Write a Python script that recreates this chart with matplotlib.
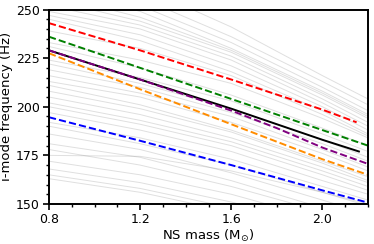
import matplotlib
matplotlib.use('Agg')
import matplotlib.pyplot as plt
import numpy as np
from matplotlib.ticker import MultipleLocator

mass = [0.8, 1.2, 1.6, 2.0, 2.2]

# highlighted EOS curves (Hz)
red_m = [0.8, 1.2, 1.6, 2.0, 2.15]
red_f = [243, 229, 214, 198.5, 192]
green_f = [236, 220, 204, 188, 180]
orange_f = [227.5, 209, 191, 173, 165]
blue_f = [194.6, 182.5, 170, 157, 150.7]
black_m = [0.8, 1.2, 1.6, 1.8, 2.0, 2.16]
black_f = [229, 214, 199, 191, 183, 177]
purple_m = [0.8, 1.2, 1.6, 1.8, 2.0, 2.2]
purple_f = [229, 214, 198, 189, 179, 170.6]

# background EOS curves (Hz at mass points above)
gray_f = [
    [275, 262, 241, 216, 204],
    [272, 256, 236, 213, 201],
    [266, 252, 233, 210, 198],
    [262, 249, 230, 208, 196],
    [258, 246, 229, 207, 195],
    [255, 244, 228, 206, 194],
    [252, 242, 226, 204, 192],
    [249, 240, 224, 202, 190],
    [247, 237, 221, 200, 188],
    [245, 234, 218, 198, 186],
    [239, 230, 216, 196, 185],
    [233, 224, 212, 194, 184],
    [231, 220, 206, 189, 180],
    [224, 215, 203, 186, 177],
    [222, 212, 199, 183, 174],
    [219, 210, 197, 181, 172],
    [216, 207, 195, 178, 169],
    [213, 205, 192, 176, 167],
    [211, 201, 188, 172, 164],
    [208, 199, 187, 171, 162],
    [205, 196, 184, 169, 161],
    [202, 193, 182, 167, 159],
    [200, 191, 180, 165, 157],
    [197, 188, 177, 162, 155],
    [192, 184, 173, 159, 152],
    [190, 181, 170, 156, 149],
    [186, 178, 166, 152, 145],
    [181, 174, 162, 148, 141],
    [178, 170, 159, 146, 139],
    [175, 174.5, 167, 156, 150],
    [172, 165, 155, 142, 136],
    [168, 161, 151, 139, 133],
    [165, 158, 148, 136, 130],
    [163, 156, 146, 134, 128],
]

fig = plt.figure(figsize=(3.74, 2.44), dpi=100)
ax = fig.add_axes([0.131, 0.164, 0.853, 0.797])

for g in gray_f:
    ax.plot(mass, g, '-', color='gray', alpha=0.25, lw=0.7)

ax.plot(black_m, black_f, '-', color='black', lw=1.4)
ax.plot(purple_m, purple_f, '--', color='purple', lw=1.4)
ax.plot(red_m, red_f, '--', color='red', lw=1.4)
ax.plot(mass, green_f, '--', color='green', lw=1.4)
ax.plot(mass, orange_f, '--', color='darkorange', lw=1.4)
ax.plot(mass, blue_f, '--', color='blue', lw=1.4)

ax.set_xlim(0.8, 2.2)
ax.set_ylim(150, 250)
ax.xaxis.set_major_locator(MultipleLocator(0.4))
ax.xaxis.set_minor_locator(MultipleLocator(0.1))
ax.yaxis.set_major_locator(MultipleLocator(25))
ax.yaxis.set_minor_locator(MultipleLocator(5))
ax.tick_params(which='major', length=4, width=1.2, labelsize=9, pad=2.5)
ax.tick_params(which='minor', length=2.5, width=1)
for s in ax.spines.values():
    s.set_linewidth(1.4)

ax.set_xlabel(r'NS mass (M$_{\odot}$)', fontsize=9.5, labelpad=1)
ax.set_ylabel('i-mode frequency (Hz)', fontsize=9.5, labelpad=2)

fig.savefig('out.png', dpi=100)
